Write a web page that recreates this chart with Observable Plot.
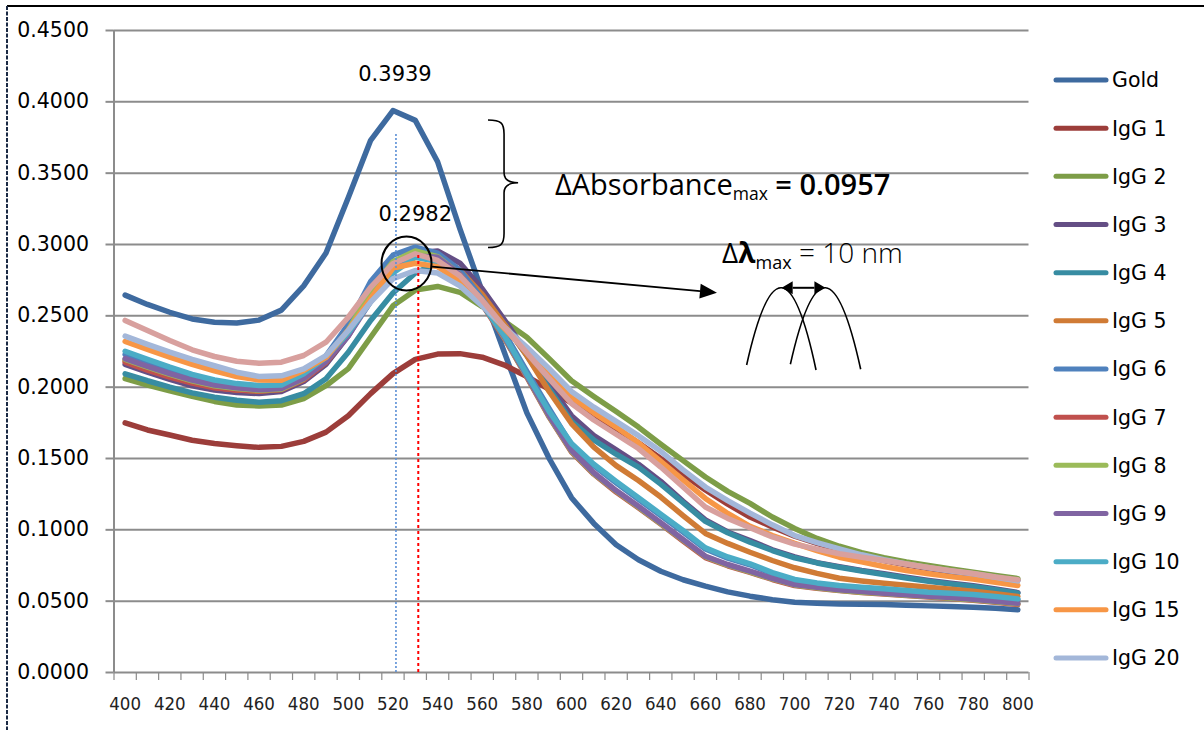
<!DOCTYPE html>
<html>
<head>
<meta charset="utf-8">
<script src="https://cdn.jsdelivr.net/npm/d3@7"></script>
<script src="https://cdn.jsdelivr.net/npm/@observablehq/plot@0.6"></script>
<style>
  html, body { margin: 0; padding: 0; background: #fff; }
  #chart { position: relative; width: 1204px; height: 730px; overflow: hidden; }
  #chart svg { display: block; }
</style>
</head>
<body>
<div id="chart"></div>
<script>
// Wavelength (nm) of each measured point
const wavelength = [400,410,420,430,440,450,460,470,480,490,500,510,520,530,540,550,560,570,580,590,600,
  610,620,630,640,650,660,670,680,690,700,710,720,730,740,750,760,770,780,790,800];

// Absorbance spectra
const gold = [0.2645,0.2580,0.2525,0.2478,0.2455,0.2450,0.2470,0.2540,0.2710,0.2940,
  0.3330,0.3730,0.3939,0.3870,0.3580,0.3110,0.2670,0.2240,0.1820,0.1500,
  0.1225,0.1045,0.0895,0.0790,0.0710,0.0650,0.0605,0.0565,0.0535,0.0510,
  0.0492,0.0485,0.0481,0.0479,0.0477,0.0472,0.0467,0.0463,0.0458,0.0450,0.0440];
const igg1 = [0.1750,0.1700,0.1665,0.1628,0.1605,0.1590,0.1578,0.1585,0.1620,0.1685,
  0.1800,0.1955,0.2095,0.2195,0.2232,0.2235,0.2210,0.2155,0.2075,0.1985,
  0.1890,0.1800,0.1710,0.1610,0.1500,0.1390,0.1280,0.1180,0.1090,0.1020,
  0.0955,0.0905,0.0860,0.0820,0.0785,0.0755,0.0728,0.0705,0.0685,0.0665,0.0645];
const igg2 = [0.2060,0.2015,0.1975,0.1935,0.1900,0.1875,0.1868,0.1875,0.1920,0.2010,
  0.2130,0.2350,0.2570,0.2680,0.2706,0.2665,0.2565,0.2460,0.2350,0.2200,
  0.2045,0.1935,0.1830,0.1720,0.1600,0.1485,0.1370,0.1270,0.1185,0.1090,
  0.1010,0.0940,0.0885,0.0840,0.0805,0.0775,0.0750,0.0725,0.0703,0.0680,0.0658];
const igg3 = [0.2160,0.2105,0.2055,0.2010,0.1980,0.1962,0.1955,0.1970,0.2040,0.2160,
  0.2360,0.2620,0.2840,0.2940,0.2955,0.2870,0.2690,0.2470,0.2240,0.2020,
  0.1800,0.1660,0.1560,0.1460,0.1340,0.1200,0.1070,0.0985,0.0925,0.0860,
  0.0810,0.0770,0.0742,0.0715,0.0692,0.0668,0.0645,0.0625,0.0608,0.0585,0.0560];
const igg4 = [0.2094,0.2045,0.2000,0.1960,0.1930,0.1908,0.1895,0.1905,0.1954,0.2059,
  0.2245,0.2468,0.2660,0.2800,0.2870,0.2800,0.2640,0.2440,0.2220,0.1990,
  0.1760,0.1630,0.1530,0.1440,0.1320,0.1190,0.1060,0.0980,0.0914,0.0855,
  0.0804,0.0768,0.0738,0.0712,0.0687,0.0662,0.0640,0.0620,0.0603,0.0580,0.0556];
const igg5 = [0.2185,0.2130,0.2080,0.2035,0.2000,0.1980,0.1972,0.1985,0.2055,0.2175,
  0.2370,0.2630,0.2840,0.2930,0.2920,0.2820,0.2650,0.2440,0.2220,0.1970,
  0.1745,0.1580,0.1450,0.1346,0.1230,0.1100,0.0975,0.0905,0.0843,0.0785,
  0.0734,0.0695,0.0661,0.0642,0.0626,0.0612,0.0598,0.0584,0.0570,0.0552,0.0533];
const igg6 = [0.2230,0.2175,0.2120,0.2072,0.2035,0.2010,0.2000,0.2005,0.2085,0.2220,
  0.2440,0.2740,0.2925,0.2982,0.2940,0.2820,0.2620,0.2380,0.2110,0.1850,
  0.1595,0.1450,0.1330,0.1215,0.1100,0.0985,0.0866,0.0802,0.0755,0.0694,
  0.0646,0.0622,0.0604,0.0592,0.0581,0.0569,0.0557,0.0549,0.0541,0.0526,0.0510];
const igg7 = [0.2175,0.2120,0.2070,0.2028,0.1995,0.1980,0.1975,0.1982,0.2050,0.2175,
  0.2370,0.2620,0.2830,0.2930,0.2900,0.2780,0.2580,0.2340,0.2070,0.1790,
  0.1545,0.1390,0.1265,0.1155,0.1040,0.0922,0.0805,0.0748,0.0702,0.0652,
  0.0610,0.0590,0.0574,0.0560,0.0550,0.0540,0.0530,0.0518,0.0506,0.0492,0.0477];
const igg8 = [0.2195,0.2140,0.2090,0.2045,0.2010,0.1990,0.1978,0.1986,0.2058,0.2190,
  0.2400,0.2680,0.2880,0.2955,0.2915,0.2790,0.2590,0.2345,0.2075,0.1795,
  0.1550,0.1395,0.1272,0.1160,0.1045,0.0928,0.0812,0.0752,0.0706,0.0656,
  0.0614,0.0594,0.0577,0.0563,0.0553,0.0542,0.0532,0.0521,0.0510,0.0496,0.0482];
const igg9 = [0.2200,0.2145,0.2095,0.2050,0.2015,0.1995,0.1982,0.1990,0.2060,0.2180,
  0.2360,0.2600,0.2810,0.2920,0.2910,0.2790,0.2590,0.2350,0.2080,0.1800,
  0.1556,0.1400,0.1275,0.1165,0.1050,0.0932,0.0815,0.0757,0.0710,0.0660,
  0.0617,0.0598,0.0580,0.0567,0.0556,0.0545,0.0535,0.0525,0.0514,0.0500,0.0486];
const igg10 = [0.2252,0.2195,0.2140,0.2090,0.2050,0.2025,0.2012,0.2015,0.2094,0.2210,
  0.2380,0.2600,0.2800,0.2910,0.2880,0.2770,0.2580,0.2360,0.2090,0.1830,
  0.1605,0.1460,0.1340,0.1225,0.1110,0.0995,0.0874,0.0810,0.0762,0.0700,
  0.0652,0.0628,0.0610,0.0598,0.0587,0.0575,0.0563,0.0555,0.0547,0.0532,0.0516];
const igg15 = [0.2320,0.2265,0.2210,0.2160,0.2115,0.2075,0.2050,0.2048,0.2117,0.2208,
  0.2400,0.2620,0.2835,0.2869,0.2845,0.2740,0.2580,0.2410,0.2250,0.2090,
  0.1930,0.1820,0.1720,0.1610,0.1480,0.1350,0.1220,0.1115,0.1025,0.0960,
  0.0905,0.0855,0.0808,0.0775,0.0743,0.0715,0.0692,0.0672,0.0655,0.0632,0.0610];
const igg20 = [0.2358,0.2300,0.2245,0.2195,0.2150,0.2105,0.2075,0.2080,0.2129,0.2222,
  0.2397,0.2596,0.2760,0.2818,0.2800,0.2710,0.2570,0.2420,0.2280,0.2130,
  0.1970,0.1860,0.1760,0.1660,0.1550,0.1420,0.1300,0.1205,0.1117,0.1035,
  0.0960,0.0910,0.0867,0.0825,0.0790,0.0760,0.0734,0.0712,0.0692,0.0668,0.0642];
const series14 = [0.2468,0.2397,0.2327,0.2262,0.2215,0.2182,0.2168,0.2175,0.2222,0.2315,
  0.2490,0.2700,0.2865,0.2935,0.2888,0.2780,0.2610,0.2420,0.2240,0.2060,
  0.1886,0.1770,0.1670,0.1570,0.1440,0.1300,0.1160,0.1080,0.1015,0.0950,
  0.0900,0.0865,0.0832,0.0808,0.0785,0.0760,0.0736,0.0714,0.0694,0.0670,0.0650];

const seriesNames = ["Gold","IgG 1","IgG 2","IgG 3","IgG 4","IgG 5","IgG 6","IgG 7","IgG 8","IgG 9","IgG 10","IgG 15","IgG 20","Series 14"];
const seriesValues = [gold, igg1, igg2, igg3, igg4, igg5, igg6, igg7, igg8, igg9, igg10, igg15, igg20, series14];
const seriesColors = ["#3e6a9f","#9c3d3a","#7d9d47","#644e85","#378ca2","#d07b35","#4f81bd","#c0504d","#9bbb59","#8064a2","#4bacc6","#f79646","#a3b7d9","#d8a09e"];
const legendCount = 13; // the legend lists the first 13 spectra

// Axis ticks
const yTicks = [0, 0.05, 0.10, 0.15, 0.20, 0.25, 0.30, 0.35, 0.40, 0.45];
const xLabels = [400,420,440,460,480,500,520,540,560,580,600,620,640,660,680,700,720,740,760,780,800];

// Peak maxima and the shifts between them
const goldPeak = {wavelength: 520, absorbance: 0.3939};
const iggPeak = {wavelength: 530, absorbance: 0.2982};
const deltaAbsorbance = 0.0957;
const deltaLambda = 10;

const rows = seriesNames.flatMap((name, i) =>
  wavelength.map((w, j) => ({series: name, wavelength: w, absorbance: seriesValues[i][j]})));

// category boundaries of the wavelength axis (one slot per measured point)
const step = wavelength[1] - wavelength[0];
const xEdges = wavelength.map(w => w - step / 2).concat([wavelength[wavelength.length - 1] + step / 2]);
const xDomain = [xEdges[0], xEdges[xEdges.length - 1]];

const gridColor = "#8c8c8c";

const chart = Plot.plot({
  width: 1204,
  height: 730,
  marginLeft: 113.5,
  marginRight: 175.5,
  marginTop: 30,
  marginBottom: 58,
  style: {background: "transparent", overflow: "visible"},
  x: {domain: xDomain},
  y: {domain: [0, 0.45]},
  color: {domain: seriesNames, range: seriesColors},
  marks: [
    Plot.gridY(yTicks, {stroke: gridColor, strokeOpacity: 1, strokeWidth: 2}),
    Plot.axisY(yTicks, {
      tickSize: 8, tickPadding: 17, stroke: gridColor, strokeWidth: 2, fill: "#000",
      tickFormat: d3.format(".4f"), fontSize: 20.5, fontFamily: "DejaVu Sans", label: null
    }),
    Plot.axisX(xEdges, {tickSize: 8, stroke: gridColor, strokeWidth: 1.2, tickFormat: () => "", label: null}),
    Plot.axisX(xLabels, {
      tickSize: 0, tickPadding: 24, fill: "#222", fontSize: 18.5,
      fontFamily: "Liberation Sans Narrow, DejaVu Sans Condensed, sans-serif", label: null
    }),
    Plot.ruleX([xDomain[0]], {y1: 0, y2: 0.45, stroke: gridColor, strokeWidth: 2}),
    Plot.line(rows, {
      x: "wavelength", y: "absorbance", z: "series", stroke: "series",
      strokeWidth: 5.5, strokeLinejoin: "round", strokeLinecap: "round"
    }),
    // dotted guides at the two absorbance maxima
    Plot.ruleX([goldPeak], {x: "wavelength", y1: 0, y2: d => d.absorbance - 0.016, dx: 3,
      stroke: "#5b8fd6", strokeWidth: 1.6, strokeDasharray: "2,2"}),
    Plot.ruleX([iggPeak], {x: "wavelength", y1: 0, y2: d => d.absorbance - 0.005, dx: 3,
      stroke: "#ff0000", strokeWidth: 2, strokeDasharray: "3,3"}),
    Plot.text([goldPeak], {x: "wavelength", y: "absorbance", text: d => d.absorbance.toFixed(4),
      dy: -36, dx: 2, fontSize: 21, fontFamily: "DejaVu Sans", fill: "#000"}),
    Plot.text([iggPeak], {x: "wavelength", y: "absorbance", text: d => d.absorbance.toFixed(4),
      dy: -33, fontSize: 21, fontFamily: "DejaVu Sans", fill: "#000"})
  ]
});

document.getElementById("chart").appendChild(chart);

// ---- annotations drawn in data space through the plot's scales ----
const X = v => chart.scale("x").apply(v);
const Y = v => chart.scale("y").apply(v);
const svg = d3.select(chart);
const ann = svg.append("g").attr("fill", "none").attr("stroke", "#000");

// curly brace spanning the drop in peak absorbance
{
  const x0 = X(562.8), xm = X(570), xt = X(576.3);
  const yTop = Y(goldPeak.absorbance) + 10, yBot = Y(iggPeak.absorbance) + 1;
  const ym = (yTop + yBot) / 2 - 1;
  ann.append("path")
    .attr("stroke-width", 1.6)
    .attr("d", `M${x0},${yTop} C${xm - 3},${yTop} ${xm},${yTop + 3} ${xm},${yTop + 14}
      L${xm},${ym - 10} C${xm},${ym - 3} ${xm + 6},${ym} ${xt},${ym}
      C${xm + 6},${ym} ${xm},${ym + 3} ${xm},${ym + 10}
      L${xm},${yBot - 14} C${xm},${yBot - 3} ${xm - 3},${yBot} ${x0},${yBot}`);
}

// circle around the shifted maxima and the arrow to the sketch
{
  const cx = X(526.3), cy = Y(iggPeak.absorbance) + 17;
  ann.append("ellipse").attr("cx", cx).attr("cy", cy).attr("rx", 25).attr("ry", 27).attr("stroke-width", 2);
  const x1 = cx + 25.5, y1 = cy + 3, x2 = X(665.4), y2 = Y(0.2659);
  const ang = Math.atan2(y2 - y1, x2 - x1);
  const L = 17, W = 7.5;
  const bx = x2 - L * Math.cos(ang), by = y2 - L * Math.sin(ang);
  ann.append("line").attr("x1", x1).attr("y1", y1).attr("x2", bx).attr("y2", by).attr("stroke-width", 1.8);
  ann.append("path").attr("fill", "#000").attr("stroke", "none")
    .attr("d", `M${x2},${y2} L${bx - W * Math.sin(ang)},${by + W * Math.cos(ang)} L${bx + W * Math.sin(ang)},${by - W * Math.cos(ang)} Z`);
}

// sketch of two shifted absorption bands
{
  const band = (xs, xp, xe, ys, yp, ye) => {
    const cx = xp, cy = 2 * yp - (ys + ye) / 2;
    ann.append("path").attr("stroke-width", 1.6)
      .attr("d", `M${xs},${ys} Q${cx},${cy} ${xe},${ye}`);
  };
  const yp = Y(0.2693);
  band(X(678.7), X(694.4), X(709.8), Y(0.2152), yp, Y(0.2117));
  band(X(698.3), X(714.0), X(729.8), Y(0.2157), yp, Y(0.2122));
  // double-headed arrow between the two band maxima
  const a = X(694.4), b = X(714.0), hl = 11, hw = 6.5;
  ann.append("line").attr("x1", a + hl).attr("x2", b - hl).attr("y1", yp).attr("y2", yp).attr("stroke-width", 2);
  ann.append("path").attr("fill", "#000").attr("stroke", "none")
    .attr("d", `M${a},${yp} L${a + hl},${yp - hw} L${a + hl},${yp + hw} Z M${b},${yp} L${b - hl},${yp - hw} L${b - hl},${yp + hw} Z`);
}

// annotation texts
{
  const t1 = svg.append("text").attr("x", X(592.8)).attr("y", Y(0.3345)).attr("text-anchor", "start")
    .attr("font-family", "Open Sans, DejaVu Sans, sans-serif").attr("font-size", 29).attr("fill", "#000");
  t1.append("tspan").text("\u0394Absorbance");
  t1.append("tspan").attr("font-size", 17.5).attr("dy", 5).text("max");
  t1.append("tspan").attr("dy", -5).attr("font-weight", 600).text(` = ${deltaAbsorbance.toFixed(4)}`);

  const t2 = svg.append("text").attr("x", X(667.7)).attr("y", Y(0.2867)).attr("text-anchor", "start")
    .attr("font-family", "Open Sans, DejaVu Sans, sans-serif").attr("font-size", 28).attr("fill", "#000");
  t2.append("tspan").text("\u0394");
  t2.append("tspan").attr("font-weight", "bold").text("\u03bb");
  t2.append("tspan").attr("font-size", 18).attr("dy", 6).text("max");
  t2.append("tspan").attr("dy", -6).attr("font-weight", 300).text(` = ${deltaLambda} nm`);
}

// legend
{
  const lg = svg.append("g").attr("text-anchor", "start");
  for (let i = 0; i < legendCount; i++) {
    const yy = 80 + i * 48.17;
    lg.append("line").attr("x1", 1056).attr("x2", 1106).attr("y1", yy).attr("y2", yy)
      .attr("stroke", seriesColors[i]).attr("stroke-width", 5).attr("stroke-linecap", "round");
    lg.append("text").attr("x", 1112).attr("y", yy).attr("dy", "0.36em")
      .attr("font-family", "DejaVu Sans").attr("font-size", 20.5).attr("fill", "#000")
      .text(seriesNames[i]);
  }
}

// outer frame (top edge and left edge)
svg.append("line").attr("x1", 7).attr("x2", 1204).attr("y1", 6).attr("y2", 6)
  .attr("stroke", "#000").attr("stroke-width", 2);
svg.append("line").attr("x1", 7).attr("x2", 7).attr("y1", 6).attr("y2", 730)
  .attr("stroke", "#1b2a44").attr("stroke-width", 2).attr("stroke-dasharray", "4,1.5");
</script>
</body>
</html>
